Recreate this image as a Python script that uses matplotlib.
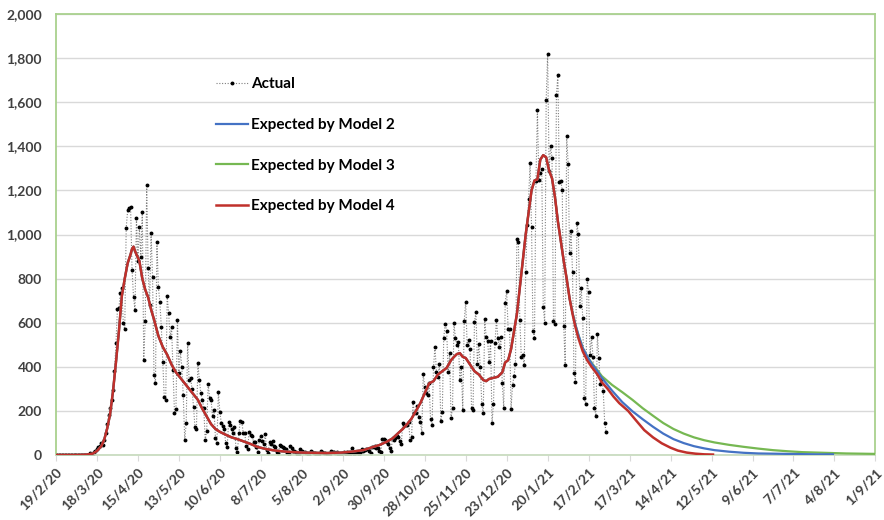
"""Daily deaths: actual vs expected by models 2-4"""
import matplotlib
matplotlib.use("Agg")
import matplotlib.pyplot as plt
from matplotlib.ticker import FuncFormatter

plt.rcParams["font.family"] = ["Lato", "DejaVu Sans"]
plt.rcParams["font.weight"] = "bold"

# x axis: day 0 = 19/2/20, tick every 28 days
tick_labels = ["19/2/20", "18/3/20", "15/4/20", "13/5/20", "10/6/20", "8/7/20",
               "5/8/20", "2/9/20", "30/9/20", "28/10/20", "25/11/20", "23/12/20",
               "20/1/21", "17/2/21", "17/3/21", "14/4/21", "12/5/21", "9/6/21",
               "7/7/21", "4/8/21", "1/9/21"]

# actual daily values, one row per week (Wed..Tue), starting 19/2/20
actual = [
    0, 0, 0, 0, 0, 0, 0,
    0, 0, 0, 0, 0, 0, 0,
    0, 1, 0, 0, 1, 1, 1,
    2, 1, 8, 5, 4, 13, 20,
    25, 35, 40, 55, 45, 70, 100,
    140, 181, 215, 250, 295, 380, 508,
    660, 665, 735, 757, 600, 570, 1030,
    1110, 1120, 1125, 840, 717, 657, 1075,
    880, 1035, 900, 1102, 430, 610, 1224,
    848, 680, 1007, 807, 363, 326, 966,
    762, 694, 580, 420, 263, 250, 721,
    644, 535, 580, 385, 190, 210, 612,
    372, 470, 400, 270, 68, 145, 508,
    340, 350, 300, 218, 127, 120, 417,
    340, 280, 250, 215, 68, 111, 324,
    260, 250, 175, 205, 77, 55, 286,
    195, 145, 130, 118, 55, 36, 150,
    135, 118, 100, 128, 32, 15, 100,
    154, 149, 100, 100, 43, 25, 104,
    90, 85, 60, 59, 36, 15, 70,
    85, 65, 48, 95, 21, 11, 60,
    50, 65, 40, 35, 15, 10, 45,
    40, 35, 30, 25, 8, 6, 40,
    30, 20, 18, 15, 5, 3, 25,
    18, 15, 12, 8, 3, 2, 18,
    12, 9, 10, 6, 2, 5, 16,
    12, 8, 10, 6, 4, 3, 16,
    14, 12, 8, 12, 2, 1, 3,
    10, 12, 6, 12, 2, 3, 32,
    8, 6, 9, 9, 5, 9, 27,
    20, 21, 27, 27, 18, 11, 37,
    37, 40, 34, 34, 17, 13, 71,
    71, 66, 59, 49, 33, 19, 76,
    70, 77, 87, 81, 65, 50, 143,
    137, 138, 136, 150, 67, 80, 241,
    191, 189, 224, 174, 151, 102, 367,
    310, 280, 274, 326, 162, 136, 397,
    492, 378, 355, 413, 156, 194, 532,
    595, 563, 376, 462, 168, 213, 598,
    529, 501, 511, 341, 398, 206, 608,
    696, 498, 521, 479, 215, 205, 603,
    648, 414, 504, 397, 231, 189, 616,
    533, 516, 424, 519, 144, 232, 506,
    612, 532, 489, 534, 326, 215, 691,
    744, 570, 570, 210, 316, 357, 414,
    981, 964, 613, 445, 454, 407, 830,
    1041, 1162, 1325, 1035, 563, 529, 1243,
    1564, 1248, 1280, 1295, 671, 599, 1610,
    1820, 1290, 1401, 1348, 610, 592, 1631,
    1725, 1239, 1245, 1200, 587, 406, 1449,
    1322, 915, 1014, 828, 373, 333, 1052,
    1001, 678, 758, 621, 258, 230, 799,
    738, 454, 533, 445, 215, 178, 548,
    442, 323, 345, 290, 144, 104,
]

# fitted part shared by the three models (day, value)
fit_days = [0, 14, 21, 25, 28, 31, 33, 35, 37, 39, 41, 43, 45, 47, 49, 51, 52, 53,
            54, 55, 57, 59, 61, 63, 65, 67, 70, 73, 76, 79, 82, 85, 88, 91, 94, 97,
            100, 103, 106, 109, 112, 116, 120, 124, 128, 133, 138, 143, 148, 154,
            160, 168, 176, 185, 195, 203, 210, 216, 221, 226, 230, 234, 237, 240,
            243, 246, 249, 252, 255, 258, 261, 264, 267, 270, 272, 274, 276, 278,
            280, 283, 286, 289, 292, 294, 296, 299, 302, 305, 307, 309, 311, 313,
            315, 317, 319, 321, 323, 325, 327, 329, 331, 333, 335, 337, 339, 341,
            343, 345, 347, 349, 351]
fit_vals = [0, 0, 2, 6, 18, 40, 70, 120, 185, 290, 420, 560, 720, 800, 870, 910, 935,
            945, 925, 910, 880, 800, 750, 715, 660, 615, 540, 490, 455, 410, 375, 350,
            325, 300, 275, 250, 210, 175, 140, 118, 105, 92, 80, 72, 62, 50, 36, 28,
            22, 17, 14, 11, 10, 9, 11, 16, 22, 35, 45, 60, 75, 100, 118, 140, 165,
            200, 235, 280, 325, 335, 365, 380, 395, 430, 445, 458, 462, 445, 440, 410,
            380, 365, 340, 335, 345, 350, 355, 375, 420, 430, 480, 560, 640, 760, 880,
            1000, 1100, 1200, 1245, 1250, 1340, 1360, 1350, 1290, 1255, 1170, 1060,
            970, 880, 800, 710]

# projected tails
m2_days = [353, 355, 357, 360, 363, 366, 370, 373, 380, 387, 394, 401, 408, 415, 422,
           429, 436, 443, 450, 460, 470, 480, 490, 500, 510, 520, 531]
m2_vals = [645, 590, 545, 485, 448, 415, 380, 350, 292, 240, 198, 162, 128, 97, 72,
           54, 40, 30, 22, 15, 10, 7, 6, 5, 4, 3, 3]
m3_days = [353, 355, 357, 360, 363, 366, 370, 373, 380, 387, 394, 401, 408, 415, 422,
           429, 436, 443, 450, 460, 470, 480, 490, 500, 510, 520, 530, 540, 550, 560]
m3_vals = [645, 590, 545, 485, 448, 418, 385, 358, 318, 285, 250, 212, 178, 145, 118,
           97, 80, 67, 57, 46, 37, 29, 22, 17, 13, 11, 9, 7, 6, 5]
m4_days = [353, 355, 357, 360, 363, 366, 370, 373, 377, 381, 385, 391, 396, 402, 408,
           414, 420, 425, 431, 437, 443, 449]
m4_vals = [640, 580, 530, 470, 430, 400, 365, 330, 300, 265, 235, 200, 160, 113, 80,
           53, 33, 20, 11, 6, 3, 2]

fig = plt.figure(figsize=(8.84, 5.2), dpi=100)
ax = fig.add_axes([0.0633, 0.125, 0.9270, 0.848])

ax.plot(range(len(actual)), actual, linestyle=(0, (1, 1.5)), color="#7f7f7f",
        linewidth=0.8, marker="o", markersize=1.8, markerfacecolor="black",
        markeredgecolor="black", label="Actual", zorder=2)
ax.plot(fit_days + m3_days, fit_vals + m3_vals, color="#76b852", linewidth=1.6,
        label="Expected by Model 3", zorder=3)
ax.plot(fit_days + m2_days, fit_vals + m2_vals, color="#4472c4", linewidth=1.6,
        label="Expected by Model 2", zorder=4)
ax.plot(fit_days + m4_days, fit_vals + m4_vals, color="#c0302b", linewidth=1.8,
        label="Expected by Model 4", zorder=5)

ax.set_xlim(0, 560)
ax.set_ylim(0, 2000)
ax.set_xticks(range(0, 561, 28))
ax.set_xticklabels(tick_labels, rotation=45, ha="right", rotation_mode="anchor")
ax.set_yticks(range(0, 2001, 200))
ax.yaxis.set_major_formatter(FuncFormatter(lambda v, p: f"{int(v):,}"))
ax.tick_params(axis="both", labelsize=10, labelcolor="#404040")
ax.tick_params(axis="x", length=4, color="#d9d9d9", pad=4)
ax.tick_params(axis="y", length=0, pad=10)

ax.grid(True, axis="y", color="#d9d9d9", linewidth=1.0)
ax.set_axisbelow(True)
for side in ["left", "right", "top"]:
    ax.spines[side].set_color("#a9d18e")
    ax.spines[side].set_linewidth(1.3)
ax.spines["bottom"].set_color("#c9dcc0")
ax.spines["bottom"].set_linewidth(1.3)

handles, labels = ax.get_legend_handles_labels()
order = [0, 2, 1, 3]
ax.legend([handles[i] for i in order], [labels[i] for i in order],
          loc="upper left", bbox_to_anchor=(0.178, 0.888), frameon=False,
          fontsize=11, labelspacing=1.75, handlelength=2.1, handletextpad=0.25)

fig.savefig("out.png", dpi=100)
